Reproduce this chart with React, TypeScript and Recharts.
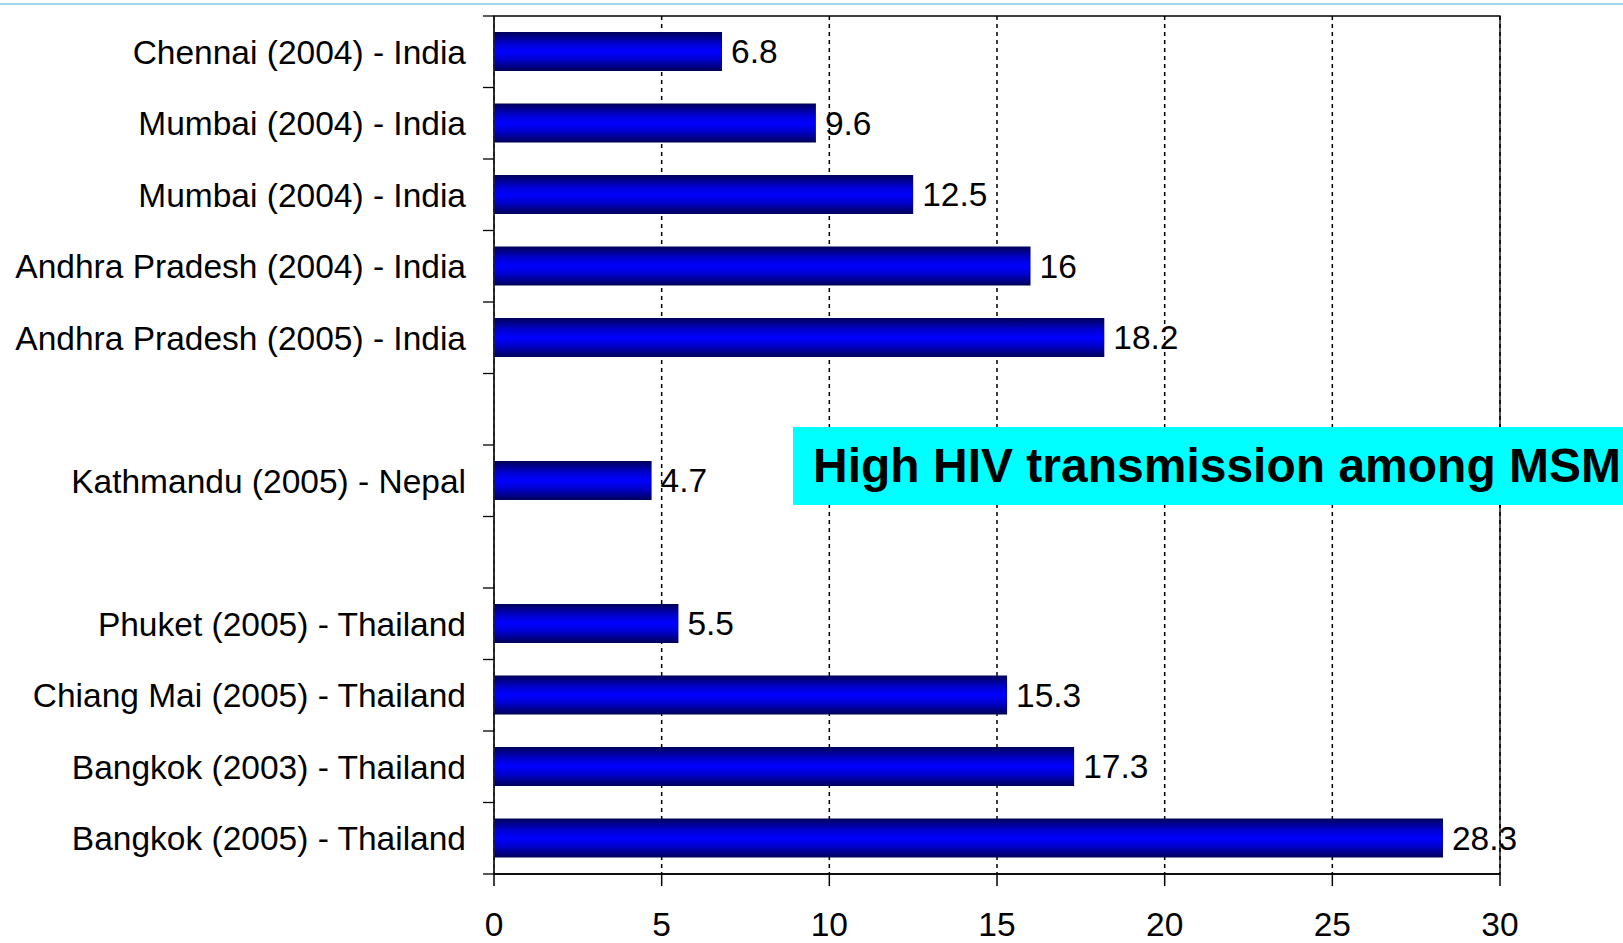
import { BarChart, Bar, XAxis, YAxis, CartesianGrid, ReferenceArea, LabelList } from "recharts";

const sites = [
  "Chennai (2004) - India",
  "Mumbai (2004) - India",
  "Mumbai (2004) - India",
  "Andhra Pradesh (2004) - India",
  "Andhra Pradesh (2005) - India",
  "",
  "Kathmandu (2005) - Nepal",
  "",
  "Phuket (2005) - Thailand",
  "Chiang Mai (2005) - Thailand",
  "Bangkok (2003) - Thailand",
  "Bangkok (2005) - Thailand",
];
const prevalence = [6.8, 9.6, 12.5, 16, 18.2, null, 4.7, null, 5.5, 15.3, 17.3, 28.3];
const xTicks = [0, 5, 10, 15, 20, 25, 30];
const note = "High HIV transmission among MSM";

const data = sites.map((s, i) => ({ id: `c${i}`, site: s, value: prevalence[i] }));

const W = 1623;
const H = 943;
const TOP = 16;
const X_AXIS_H = 69;
const Y_AXIS_W = 494;
const RIGHT = 123;
const FONT = "'Liberation Sans', Arial, sans-serif";
const FS = 33.5;
const TICK_SIZE = 11;
const TICK_MARGIN = 17;
const band = (H - TOP - X_AXIS_H) / sites.length;

const SiteTick = (props: any) => {
  const { x, y, payload, index } = props;
  const lx1 = x + TICK_MARGIN;
  const lx2 = lx1 + TICK_SIZE;
  const label = data.find((d) => d.id === payload.value)?.site ?? "";
  return (
    <g>
      <line x1={lx1} x2={lx2} y1={y - band / 2} y2={y - band / 2} stroke="#000" strokeWidth={1.3} />
      {index === sites.length - 1 && (
        <line x1={lx1} x2={lx2} y1={y + band / 2} y2={y + band / 2} stroke="#000" strokeWidth={1.3} />
      )}
      <text x={x} y={y} dy="0.355em" textAnchor="end" fontSize={FS} fontFamily={FONT} fill="#000">
        {label}
      </text>
    </g>
  );
};

export default function App() {
  return (
    <div style={{ position: "absolute", left: 0, top: 0, width: W, height: H, overflow: "hidden", background: "#fff" }}>
      <div style={{ position: "absolute", left: 0, top: 3, width: W, height: 2, background: "#9ad8f6" }} />
      <BarChart
        width={W}
        height={H}
        data={data}
        layout="vertical"
        margin={{ top: TOP, right: RIGHT, bottom: 0, left: 0 }}
        barSize={39}
      >
        <defs>
          <linearGradient id="barGrad" x1="0" y1="0" x2="0" y2="1">
            <stop offset="0%" stopColor="#000058" />
            <stop offset="30%" stopColor="#0000d0" />
            <stop offset="50%" stopColor="#0000ff" />
            <stop offset="70%" stopColor="#0000d0" />
            <stop offset="100%" stopColor="#000058" />
          </linearGradient>
        </defs>
        <CartesianGrid horizontal={false} stroke="#000" strokeDasharray="4 4" strokeWidth={1.5} />
        <ReferenceArea x1={0} x2={30} fill="none" stroke="#000" strokeWidth={1.3} />
        <XAxis
          type="number"
          domain={[0, 30]}
          ticks={xTicks}
          height={X_AXIS_H}
          tickSize={12}
          tickMargin={26}
          stroke="#000"
          strokeWidth={1.5}
          tick={{ fontSize: FS, fontFamily: FONT, fill: "#000" }}
        />
        <YAxis
          type="category"
          dataKey="id"
          width={Y_AXIS_W}
          tickLine={false}
          tickSize={TICK_SIZE}
          tickMargin={TICK_MARGIN}
          interval={0}
          stroke="#222"
          strokeWidth={1.5}
          tick={<SiteTick />}
        />
        <Bar dataKey="value" fill="url(#barGrad)" isAnimationActive={false}>
          <LabelList
            dataKey="value"
            position="right"
            offset={9}
            style={{ fontSize: FS, fontFamily: FONT, fill: "#000" }}
          />
        </Bar>
      </BarChart>
      <div
        style={{
          position: "absolute",
          left: 793,
          top: 427,
          width: W - 793,
          height: 78,
          lineHeight: "78px",
          background: "#00ffff",
          fontFamily: FONT,
          fontWeight: "bold",
          fontSize: 48,
          color: "#000",
          paddingLeft: 20,
          boxSizing: "border-box",
          whiteSpace: "nowrap",
          overflow: "hidden",
        }}
      >
        {note}
      </div>
    </div>
  );
}
